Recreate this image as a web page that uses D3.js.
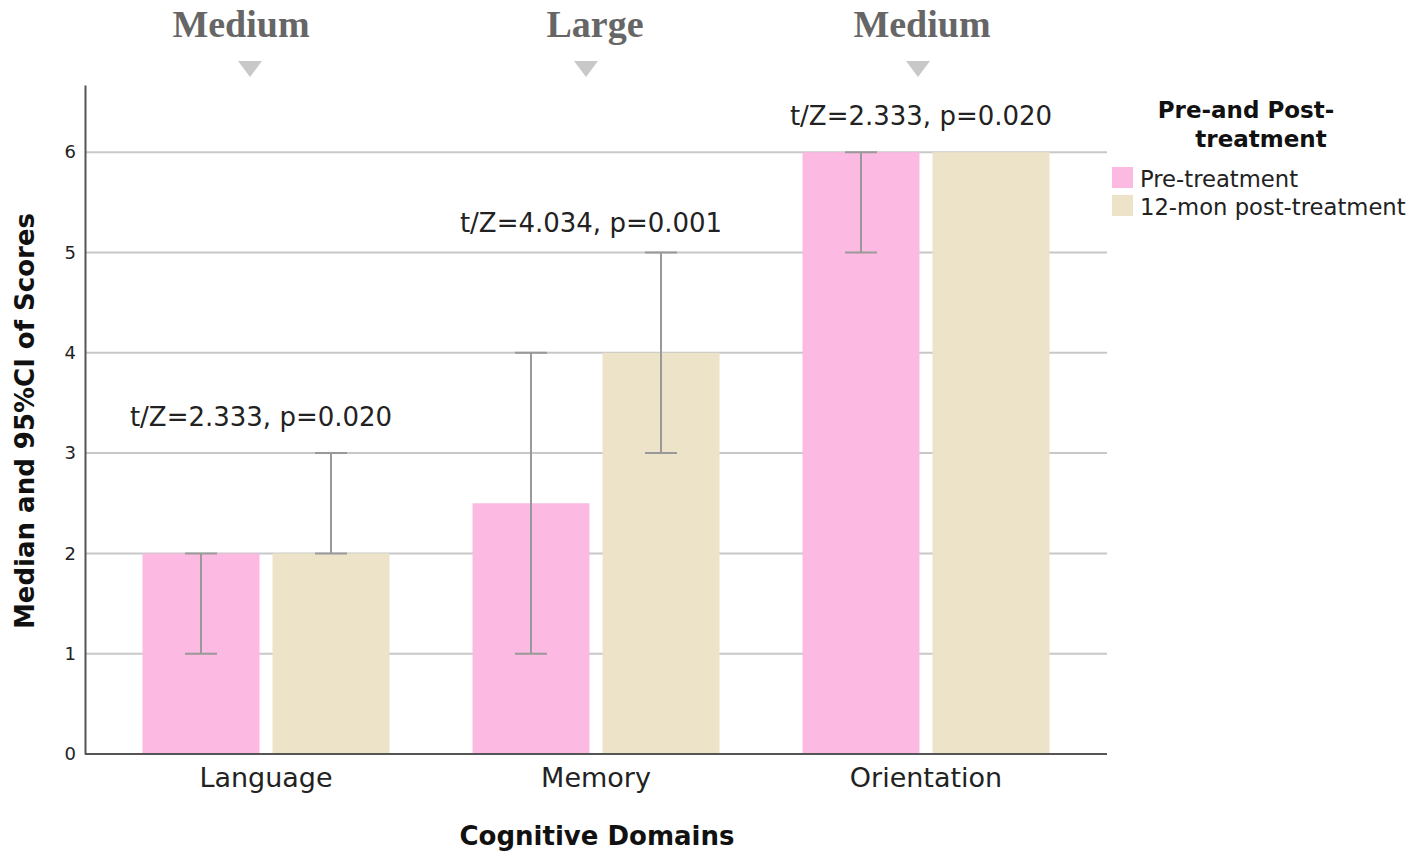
<!DOCTYPE html>
<html><head><meta charset="utf-8">
<script src="https://cdn.jsdelivr.net/npm/d3@7"></script>
<style>body{margin:0;background:#fff}svg{display:block}</style>
</head><body>
<svg id="c" width="1418" height="859" font-family="DejaVu Sans, sans-serif"></svg>
<script>
const categories = ["Language", "Memory", "Orientation"];
const series = ["Pre-treatment", "12-mon post-treatment"];
const preMedian = [2, 2.5, 6];
const preLow = [1, 1, 5];
const preHigh = [2, 4, 6];
const postMedian = [2, 4, 6];
const postLow = [2, 3, 6];
const postHigh = [3, 5, 6];
const statLabels = ["t/Z=2.333, p=0.020", "t/Z=4.034, p=0.001", "t/Z=2.333, p=0.020"];
const statValues = [3.27, 5.2, 6.27];
const effectLabels = ["Medium", "Large", "Medium"];
const yTicks = [0, 1, 2, 3, 4, 5, 6];
const colors = ["#fcbae2", "#ede3c9"];

const svg = d3.select("#c");
const y = d3.scaleLinear().domain([0, 6.67]).range([754, 85]);
const x = d3.scaleBand().domain(categories).range([101, 1091]);
const xs = d3.scaleBand().domain(series).range([0, x.bandwidth()]).paddingInner(0.1).paddingOuter(0.319);

// gridlines
svg.append("g").selectAll("line").data(yTicks.filter(d => d > 0)).join("line")
  .attr("x1", 85).attr("x2", 1107).attr("y1", d => y(d)).attr("y2", d => y(d))
  .attr("stroke", "#c8c8c8").attr("stroke-width", 2);

const rows = [];
categories.forEach((c, i) => {
  rows.push({c, s: series[0], v: preMedian[i], lo: preLow[i], hi: preHigh[i], col: colors[0]});
  rows.push({c, s: series[1], v: postMedian[i], lo: postLow[i], hi: postHigh[i], col: colors[1]});
});

svg.append("g").selectAll("rect").data(rows).join("rect")
  .attr("x", d => x(d.c) + xs(d.s)).attr("width", xs.bandwidth())
  .attr("y", d => y(d.v)).attr("height", d => y(0) - y(d.v)).attr("fill", d => d.col);

// error bars
const eb = svg.append("g").attr("stroke", "#999").attr("stroke-width", 2);
rows.filter(d => d.hi > d.lo).forEach(d => {
  const cx = x(d.c) + xs(d.s) + xs.bandwidth() / 2;
  eb.append("line").attr("x1", cx).attr("x2", cx).attr("y1", y(d.lo)).attr("y2", y(d.hi));
  eb.append("line").attr("x1", cx - 16).attr("x2", cx + 16).attr("y1", y(d.lo)).attr("y2", y(d.lo));
  eb.append("line").attr("x1", cx - 16).attr("x2", cx + 16).attr("y1", y(d.hi)).attr("y2", y(d.hi));
});

// axes
const yAxis = d3.axisLeft(y).tickValues(yTicks).tickFormat(d3.format("d")).tickSize(0).tickPadding(9);
const gy = svg.append("g").attr("transform", "translate(85,0)").call(yAxis);
gy.select(".domain").attr("stroke", "#555").attr("stroke-width", 2);
gy.selectAll("text").attr("font-size", 18).attr("fill", "#222").attr("font-family", "DejaVu Sans, sans-serif");

const xAxis = d3.axisBottom(x).tickSize(0).tickPadding(14).tickSizeOuter(0);
const gx = svg.append("g").attr("transform", "translate(0,754)").call(xAxis);
gx.select(".domain").attr("d", "M85,0H1107").attr("stroke", "#555").attr("stroke-width", 2);
gx.selectAll("text").attr("font-size", 27).attr("fill", "#222").attr("font-family", "DejaVu Sans, sans-serif");

// stats labels
svg.append("g").selectAll("text").data(categories).join("text")
  .attr("x", (d, i) => x(d) + x.bandwidth() / 2 - 5).attr("y", (d, i) => y(statValues[i]))
  .attr("text-anchor", "middle").attr("font-size", 26).attr("fill", "#222")
  .text((d, i) => statLabels[i]);

// effect labels + triangles
const effX = [241, 595, 922];
const triX = [250, 586, 918];
svg.append("g").selectAll("text").data(effectLabels).join("text")
  .attr("x", (d, i) => effX[i]).attr("y", 37).attr("text-anchor", "middle")
  .attr("font-family", "Liberation Serif, Times New Roman, serif").attr("font-weight", "bold")
  .attr("font-size", 38).attr("fill", "#666").text(d => d);
svg.append("g").selectAll("path").data(triX).join("path")
  .attr("d", d => `M${d - 12},61L${d + 12},61L${d},77Z`).attr("fill", "#c8c8c8");

// axis titles
svg.append("text").attr("transform", "translate(34,421) rotate(-90)").attr("text-anchor", "middle")
  .attr("font-size", 26).attr("font-weight", "bold").attr("fill", "#111").text("Median and 95%CI of Scores");
svg.append("text").attr("x", 597).attr("y", 845).attr("text-anchor", "middle")
  .attr("font-size", 26).attr("font-weight", "bold").attr("fill", "#111").text("Cognitive Domains");

// legend
const lg = svg.append("g");
lg.append("text").attr("x", 1246).attr("y", 118).attr("text-anchor", "middle").attr("font-size", 23)
  .attr("font-weight", "bold").attr("fill", "#111").text("Pre-and Post-");
lg.append("text").attr("x", 1261).attr("y", 147).attr("text-anchor", "middle").attr("font-size", 23)
  .attr("font-weight", "bold").attr("fill", "#111").text("treatment");
series.forEach((s, i) => {
  lg.append("rect").attr("x", 1112).attr("y", 167 + i * 28).attr("width", 21).attr("height", 21).attr("fill", colors[i]);
  lg.append("text").attr("x", 1140).attr("y", 187 + i * 28).attr("font-size", 22.7).attr("fill", "#222").text(s);
});
</script>
</body></html>
